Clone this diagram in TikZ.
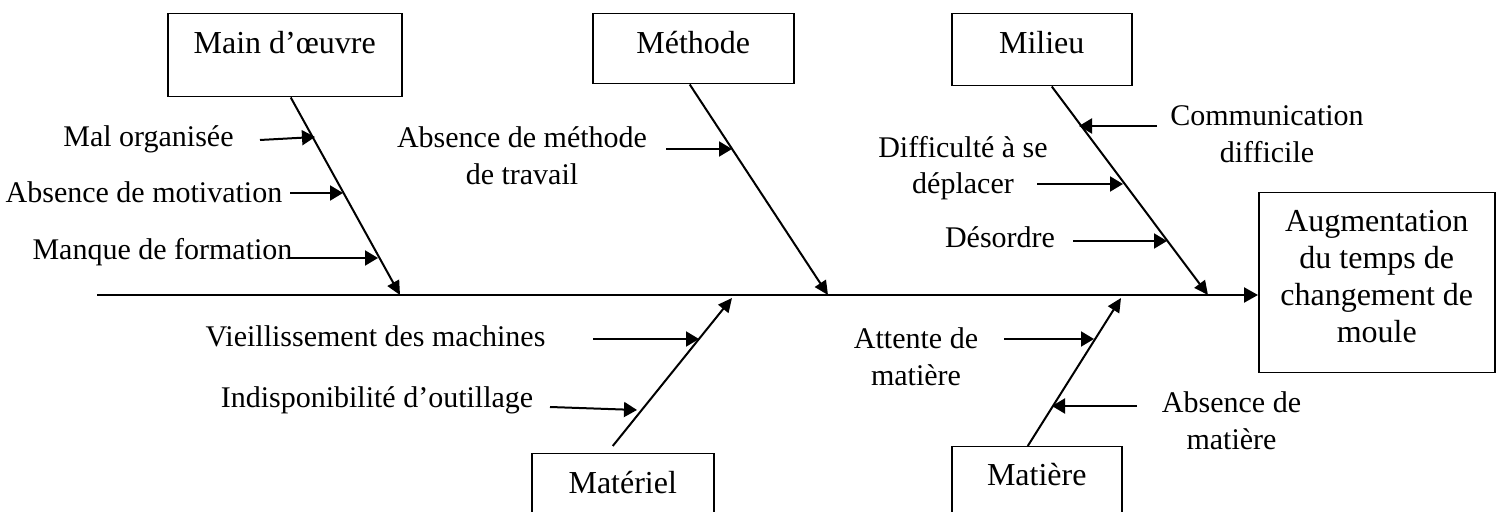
\documentclass[tikz,border=0pt]{standalone}
\usepackage{fontspec}
\setmainfont{Liberation Serif}
\usetikzlibrary{arrows.meta,calc}

\begin{document}
\begin{tikzpicture}[x=0.5pt,y=-0.5pt,
  every node/.style={font=\fontsize{15pt}{18.25pt}\selectfont, inner sep=0pt},
  catbox/.style={draw, line width=0.75pt, anchor=north west, text height=20pt,
                 font=\fontsize{16pt}{18.5pt}\selectfont},
  lbl/.style={anchor=base},
  lbltwo/.style={align=center, anchor=north},
  spine/.style={line width=1.15pt, -{Triangle[length=7pt,width=7.5pt]}},
  bone/.style={line width=1pt, -{Triangle[length=7pt,width=6.5pt]}},
  twig/.style={line width=1pt, -{Triangle[length=6.5pt,width=7.5pt]}},
]
\clip (0,0) rectangle (1499,512);

% category boxes
\node[catbox, minimum width=117pt, text depth=21.5pt] (mo) at (167,13) {Main d’œuvre};
\node[catbox, minimum width=100.5pt, text depth=15pt] (me) at (592,13) {Méthode};
\node[catbox, minimum width=90pt, text depth=16pt] (mi) at (951,13) {Milieu};
\node[catbox, minimum width=91pt, text depth=40pt] (ma) at (531,453) {Matériel};
\node[catbox, minimum width=85pt, text height=19.5pt, text depth=40pt] (mt) at (951,446) {Matière};

% effect box
\node[draw, line width=0.75pt, anchor=north west, minimum width=118pt, minimum height=90pt,
      font=\fontsize{16pt}{18.5pt}\selectfont] (eff) at (1258,192)
  {\begin{tabular}{@{}c@{}}Augmentation\\du temps de\\changement de\\moule\\[3pt]\end{tabular}};

% cause labels
\node[lbl] (l1) at (148.5,147) {Mal organisée};
\node[lbl] (l2) at (144,203) {Absence de motivation};
\node[lbl] (l3) at (162.5,260) {Manque de formation};
\node[lbltwo] (l4) at (522,126.5) {Absence de méthode\\de travail};
\node[lbltwo] (l5) at (1267,105.5) {Communication\\difficile};
\node[lbltwo] (l6) at (963,135.5) {Difficulté à se\\déplacer};
\node[lbl] (l7) at (1000,248) {Désordre};
\node[lbl] (l8) at (375.5,347) {Vieillissement des machines};
\node[lbl] (l9) at (377,408) {Indisponibilité d’outillage};
\node[lbltwo] (l10) at (916,327.5) {Attente de\\matière};
\node[lbltwo] (l11) at (1231.5,391.5) {Absence de\\matière};

% spine
\coordinate (s0) at (97,295);
\draw[spine] (s0) -- (s0 -| eff.west);

% main bones
\coordinate (b1) at (400,295);
\coordinate (b2) at (828,295);
\coordinate (b3) at (1208,295);
\coordinate (b4) at (732,298);
\coordinate (b5) at (1121,298);
\draw[bone] ([xshift=3pt]mo.south) -- (b1);
\draw[bone] ([xshift=-1.75pt]me.south) -- (b2);
\draw[bone] ([xshift=5pt]mi.south) -- (b3);
\draw[bone] ([shift={(-5pt,3.5pt)}]ma.north) -- (b4);
\draw[bone] ([xshift=-4.5pt]mt.north) -- (b5);

% small cause arrows
\coordinate (a1) at (260,140);   \coordinate (h1) at (315,137);
\coordinate (a2) at (290,193);   \coordinate (h2) at (343,193);
\coordinate (a3) at (290,258);   \coordinate (h3) at (378,258);
\coordinate (a4) at (666,149);   \coordinate (h4) at (732,149);
\coordinate (a5) at (1157,126);  \coordinate (h5) at (1079,126);
\coordinate (a6) at (1037,184);  \coordinate (h6) at (1123,184);
\coordinate (a7) at (1073,241);  \coordinate (h7) at (1167,241);
\coordinate (a8) at (593,339);   \coordinate (h8) at (699,339);
\coordinate (a9) at (550,407);   \coordinate (h9) at (637,410);
\coordinate (a10) at (1004,339); \coordinate (h10) at (1094,339);
\coordinate (a11) at (1137,406); \coordinate (h11) at (1052,406);
\foreach \i in {1,...,11} \draw[twig] (a\i) -- (h\i);
\end{tikzpicture}
\end{document}
